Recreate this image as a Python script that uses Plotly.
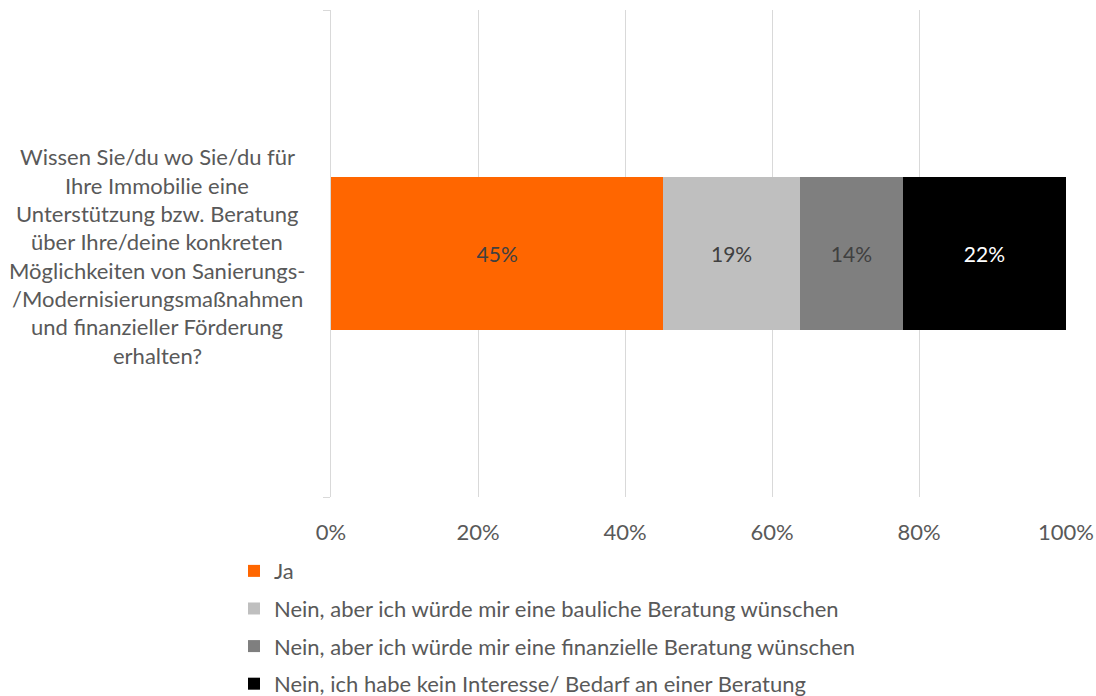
import plotly.graph_objects as go

question_lines = [
    "Wissen Sie/du wo Sie/du für",
    "Ihre Immobilie eine",
    "Unterstützung bzw. Beratung",
    "über Ihre/deine konkreten",
    "Möglichkeiten von Sanierungs-",
    "/Modernisierungsmaßnahmen",
    "und finanzieller Förderung",
    "erhalten?",
]
category = ["Q"]
series_names = [
    "Ja",
    "Nein, aber ich würde mir eine bauliche Beratung wünschen",
    "Nein, aber ich würde mir eine finanzielle Beratung wünschen",
    "Nein, ich habe kein Interesse/ Bedarf an einer Beratung",
]
series_values = [45.2, 18.6, 14.0, 22.2]
series_labels = ["45%", "19%", "14%", "22%"]
series_colors = ["#FF6600", "#BFBFBF", "#7F7F7F", "#000000"]
label_colors = ["#404040", "#404040", "#404040", "#FFFFFF"]
x_ticks = [0, 20, 40, 60, 80, 100]
x_tick_text = ["0%", "20%", "40%", "60%", "80%", "100%"]

FONT = "Lato, 'Open Sans', sans-serif"
TEXT = "#595959"
FS = 22

fig = go.Figure()
for name, val, lab, col, lc in zip(series_names, series_values, series_labels, series_colors, label_colors):
    fig.add_trace(go.Bar(
        y=category, x=[val], name=name, orientation="h",
        marker=dict(color=col, line=dict(width=0)),
        text=[lab], textposition="inside", insidetextanchor="middle",
        textfont=dict(family=FONT, size=21, color=lc),
        width=0.314, legendgroup=name, hoverinfo="skip",
    ))

fig.update_layout(
    barmode="stack",
    width=1096, height=696,
    margin=dict(l=331, r=30, t=10, b=199, autoexpand=False),
    paper_bgcolor="white", plot_bgcolor="white",
    font=dict(family=FONT, size=FS, color=TEXT),
    showlegend=True,
    legend=dict(
        x=-0.132, xanchor="left", y=-0.109, yanchor="top",
        orientation="v", traceorder="grouped", tracegroupgap=6,
        font=dict(family=FONT, size=FS, color=TEXT),
        itemwidth=30,
    ),
    xaxis=dict(
        range=[0, 100], tickvals=x_ticks, ticktext=x_tick_text,
        showgrid=True, gridcolor="#D9D9D9", gridwidth=1,
        zeroline=False, showline=False, ticks="",
        ticklabelstandoff=20, automargin=False,
        tickfont=dict(family=FONT, size=FS, color=TEXT),
    ),
    yaxis=dict(
        type="category", showticklabels=False, automargin=False,
        showline=True, linecolor="#D9D9D9", linewidth=1,
        ticks="outside", tickson="boundaries", ticklen=7, tickcolor="#D9D9D9",
        showgrid=False, zeroline=False,
    ),
)

n = len(question_lines)
line_h = 28.3
center_px = 256
plot_top, plot_h = 10, 487
for i, line in enumerate(question_lines):
    ypx = center_px + (i - (n - 1) / 2) * line_h
    fig.add_annotation(
        text=line, xref="paper", yref="paper",
        x=(157 - 331) / 735, y=1 - (ypx - plot_top) / plot_h,
        xanchor="center", yanchor="middle", showarrow=False,
        font=dict(family=FONT, size=FS, color=TEXT),
    )

fig.write_html(
    "out.html",
    config={"displayModeBar": False},
    post_script="document.body.style.margin='0';",
)
